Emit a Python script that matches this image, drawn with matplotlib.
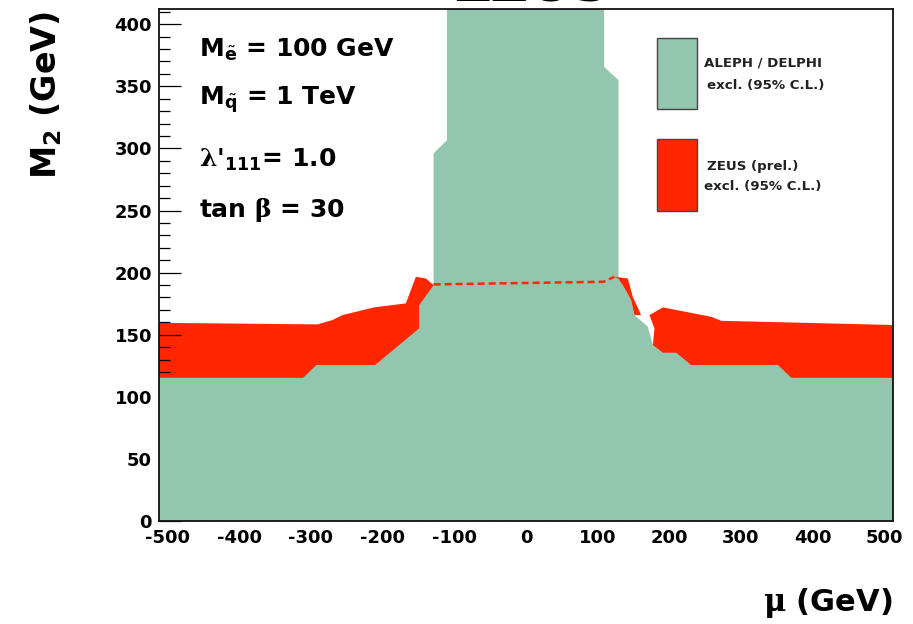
import matplotlib
matplotlib.use("Agg")
import matplotlib.pyplot as plt
from matplotlib.patches import Rectangle
from matplotlib.ticker import MultipleLocator

plt.rcParams["font.family"] = ["DejaVu Sans"]
plt.rcParams["font.weight"] = "bold"
plt.rcParams["axes.unicode_minus"] = False
plt.rcParams["mathtext.fontset"] = "custom"
plt.rcParams["mathtext.rm"] = "DejaVu Sans:bold"
plt.rcParams["mathtext.bf"] = "DejaVu Sans:bold"
plt.rcParams["mathtext.it"] = "DejaVu Sans:bold"
plt.rcParams["mathtext.sf"] = "DejaVu Serif"

# ---------------- data ----------------
# ALEPH / DELPHI excluded region boundary (mu, M2)
green_mu = [-520, -520, -311, -292.3, -210.5, -149, -149, -128.9, -128.9, -110.3, -110.3,
            109, 109, 129, 129, 135, 146.6, 151.3, 170, 177, 190.9, 209.5, 230.4,
            351.5, 370.1, 520, 520]
green_m2 = [0, 115.3, 115.3, 125.6, 125.6, 155.1, 173.8, 189.9, 296, 306.6, 430,
            430, 365.6, 355, 196.6, 190, 177.9, 165.8, 156.4, 141.7, 135.5, 135.5, 125.6,
            125.6, 115.3, 115.3, 0]

# ZEUS excluded region, negative mu side (lower part hidden under ALEPH/DELPHI)
zeus_left_mu = [-520, -290.9, -270, -256, -211.9, -167.6, -153.6, -139.7, -128.9, -128.9, -520]
zeus_left_m2 = [159.6, 158.3, 161.8, 165.8, 172, 175.2, 196.6, 195.3, 189.9, 100, 100]

# ZEUS small excluded piece near mu = +140
zeus_mid_mu = [123.4, 142, 149, 160.6, 151.3, 146.6, 135, 129]
zeus_mid_m2 = [196.6, 195.3, 180.5, 165.8, 165.8, 177.9, 190, 195]

# ZEUS excluded region, positive mu side
zeus_right_mu = [172.2, 190.9, 258.4, 272.3, 520, 520, 177, 177, 179.2, 172.2]
zeus_right_m2 = [165.8, 172, 164.4, 161.2, 157.7, 100, 100, 141.7, 155.1, 165.8]

# ZEUS limit inside the ALEPH/DELPHI region (dashed)
zeus_dash_mu = [-128.9, 108, 123.4]
zeus_dash_m2 = [190.5, 192.6, 196.6]

x_ticks = [-500, -400, -300, -200, -100, 0, 100, 200, 300, 400, 500]
y_ticks = [0, 50, 100, 150, 200, 250, 300, 350, 400]

GREEN = "#92c6ae"
RED = "#ff2600"

W, H = 913, 624
fig = plt.figure(figsize=(W / 100, H / 100), dpi=100)
ax = fig.add_axes([159 / W, 1 - 521 / H, (893 - 159) / W, (521 - 9.3) / H])


def fx(px):
    return px / W


def fy(py):
    return 1 - py / H


ax.fill(zeus_left_mu, zeus_left_m2, color=RED, lw=0, zorder=1)
ax.fill(zeus_right_mu, zeus_right_m2, color=RED, lw=0, zorder=1)
ax.fill(green_mu, green_m2, color=GREEN, lw=0, zorder=2)
ax.fill(zeus_mid_mu, zeus_mid_m2, color=RED, lw=0, zorder=3)
ax.plot(zeus_dash_mu, zeus_dash_m2, color=RED, lw=1.8, dashes=(2.8, 1.6), zorder=4)

ax.set_xlim(-512, 512)
ax.set_ylim(0, 412)
ax.set_xticks(x_ticks)
ax.set_yticks(y_ticks)
ax.xaxis.set_minor_locator(MultipleLocator(20))
ax.yaxis.set_minor_locator(MultipleLocator(10))
ax.tick_params(axis="x", which="major", direction="in", length=9.5, width=0.9, pad=6,
               labelsize=13)
ax.tick_params(axis="x", which="minor", direction="in", length=4.7, width=0.9)
ax.tick_params(axis="y", which="major", direction="in", length=16, width=0.9, pad=5,
               labelsize=13)
ax.tick_params(axis="y", which="minor", direction="in", length=8, width=0.9)
for lab in ax.get_xticklabels() + ax.get_yticklabels():
    lab.set_fontweight("bold")
for sp in ax.spines.values():
    sp.set_linewidth(1.3)
    sp.set_zorder(10)
    sp.set_color("#111111")

# axis titles
fig.text(fx(46), fy(95), r"M$_{2}$ (GeV)", rotation=90, ha="center", va="center",
         fontsize=24, fontweight="bold")
fig.text(fx(893), fy(603), r"$\mathsf{\mu}$ (GeV)", ha="right", va="center",
         fontsize=22, fontweight="bold")

# title, mostly outside the top of the canvas (as in the reference)
fig.text(fx(531), fy(1.5), "ZEUS", ha="center", va="baseline", fontsize=36,
         family="DejaVu Serif", fontweight="bold")

# parameter annotations
params = [r"M$_{\tilde{\mathrm{e}}}$ = 100 GeV",
          r"M$_{\tilde{\mathrm{q}}}$ = 1 TeV",
          r"$\mathsf{\lambda}$'$_{111}$= 1.0",
          r"tan $\mathsf{\beta}$ = 30"]
param_base = [57, 105, 166.7, 216.7]
for t, b in zip(params, param_base):
    fig.text(fx(199), fy(b), t, ha="left", va="baseline", fontsize=18, fontweight="bold")

# legend
fig.patches.append(Rectangle((fx(657.3), fy(109.3)), (696.7 - 657.3) / W, (109.3 - 38.3) / H,
                             transform=fig.transFigure, facecolor=GREEN, edgecolor="#444444",
                             lw=1.0, zorder=20))
fig.patches.append(Rectangle((fx(657.3), fy(210.7)), (696.7 - 657.3) / W, (210.7 - 139.3) / H,
                             transform=fig.transFigure, facecolor=RED, edgecolor="#444444",
                             lw=1.0, zorder=20))
leg_items = [("ALEPH / DELPHI", 704, 62.7), ("excl. (95% C.L.)", 707, 85),
             ("ZEUS (prel.)", 707, 167), ("excl. (95% C.L.)", 704, 186)]
for t, x, y in leg_items:
    fig.text(fx(x), fy(y), t, ha="left", va="center", fontsize=9.6, fontweight="bold",
             color="#222222")

fig.savefig("out.png", dpi=100)
